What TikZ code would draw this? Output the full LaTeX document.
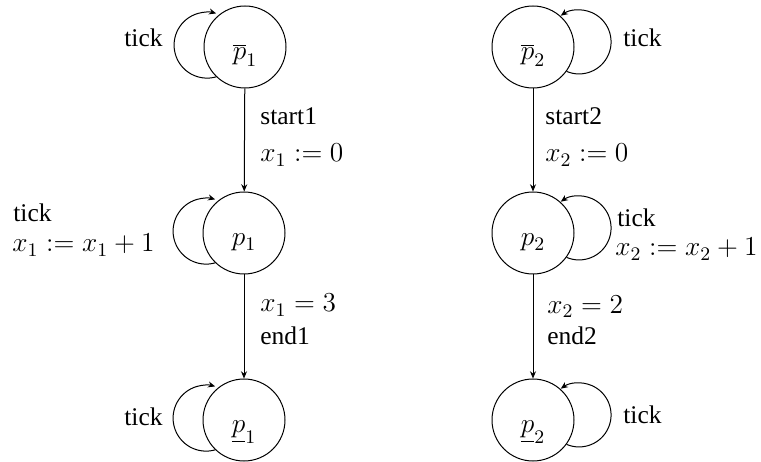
\RequirePackage{fix-cm}
\documentclass[tikz,border=0pt]{standalone}
\usepackage{fontspec}
\setmainfont[Scale=0.93]{Liberation Serif}
\newfontfamily\timesfont[Scale=0.93]{Liberation Serif}
\usetikzlibrary{arrows.meta}
\begin{document}
\begin{tikzpicture}[x=0.5pt,y=0.5pt,
  font=\fontsize{13.7}{16}\selectfont\timesfont,
  state/.style={circle,draw,line width=0.5pt,minimum size=41pt,inner sep=0pt,text height=13pt,text depth=0pt},
  lbl/.style={inner sep=0pt},
  edge/.style={line width=0.5pt,-{Stealth[length=3.6pt,width=3pt]}}]
\useasboundingbox (0,0) rectangle (761,461);
% states
\node[state] (A1) at (245,414) {$\overline{p}_1$};
\node[state] (A2) at (244,228) {$p_1$};
\node[state] (A3) at (244,41) {$\underline{p}_1$};
\node[state] (B1) at (533,414) {$\overline{p}_2$};
\node[state] (B2) at (533,228) {$p_2$};
\node[state] (B3) at (533,41) {$\underline{p}_2$};
% transitions
\draw[edge] (A1) -- (A2);
\draw[edge] (A2) -- (A3);
\draw[edge] (B1) -- (B2);
\draw[edge] (B2) -- (B3);
% self loops
\draw[edge] (A1.226) arc[start angle=-74,end angle=-286,radius=16.5pt];
\draw[edge] (A2.226) arc[start angle=-74,end angle=-286,radius=16.5pt];
\draw[edge] (A3.226) arc[start angle=-74,end angle=-286,radius=16.5pt];
\draw[edge] (B1.-36) arc[start angle=-113,end angle=125,radius=16pt];
\draw[edge] (B2.-36) arc[start angle=-113,end angle=125,radius=16pt];
\draw[edge] (B3.-36) arc[start angle=-113,end angle=125,radius=16pt];
% labels
\node[lbl,anchor=base east] (tA1) at (163,414) {tick};
\node[lbl,anchor=base west] (tA2) at (13,239) {tick};
\node[lbl,anchor=base west] (aA2) at (12,209) {$x_1 := x_1 + 1$};
\node[lbl,anchor=base east] (tA3) at (163,36) {tick};
\node[lbl,anchor=base west] (s1) at (260,336) {start1};
\node[lbl,anchor=base west] (z1) at (260,299) {$x_1 := 0$};
\node[lbl,anchor=base west] (g1) at (260,149) {$x_1 = 3$};
\node[lbl,anchor=base west] (e1) at (260,116) {end1};
\node[lbl,anchor=base west] (s2) at (545,336) {start2};
\node[lbl,anchor=base west] (z2) at (545,299) {$x_2 := 0$};
\node[lbl,anchor=base west] (g2) at (547,148) {$x_2 = 2$};
\node[lbl,anchor=base west] (e2) at (547,116) {end2};
\node[lbl,anchor=base west] (tB1) at (623,414) {tick};
\node[lbl,anchor=base west] (tB2) at (617,234) {tick};
\node[lbl,anchor=base west] (aB2) at (615,205) {$x_2 := x_2 + 1$};
\node[lbl,anchor=base west] (tB3) at (623,38) {tick};
\end{tikzpicture}
\end{document}
